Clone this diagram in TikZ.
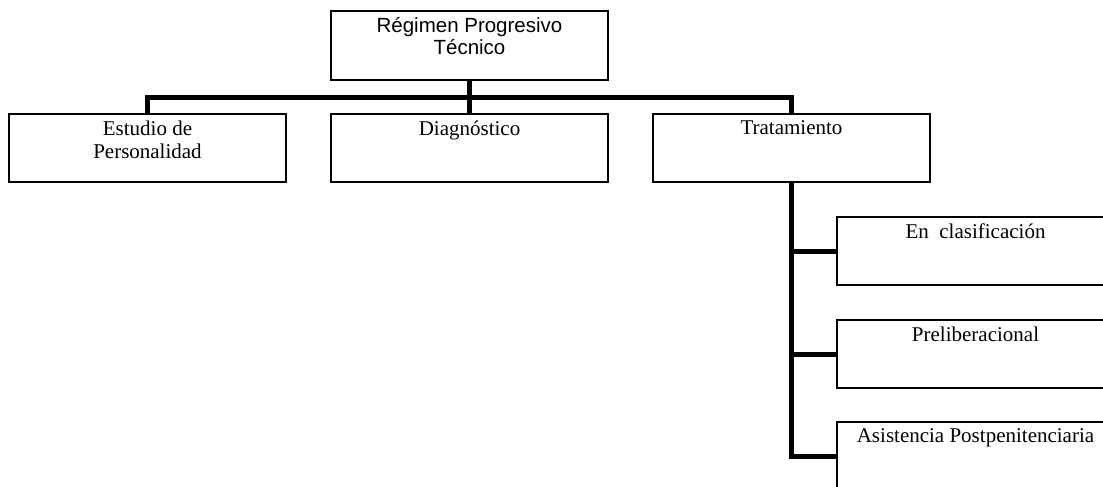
\documentclass[tikz,border=0pt]{standalone}
\usepackage{fontspec}
\setmainfont{Liberation Serif}
\newfontfamily\arialfont{Liberation Sans}
\usetikzlibrary{calc}

\begin{document}
\begin{tikzpicture}[x=1pt,y=-1pt]
  \tikzstyle{box}=[draw, line width=1.3pt, minimum width=277pt, minimum height=68pt, inner sep=0pt]
  \tikzstyle{boxtext}=[anchor=north, align=center, inner sep=0pt, font=\fontsize{21}{23}\selectfont]
  \tikzstyle{bar}=[line width=5pt, black]
  \clip (0,0) rectangle (1103,487);
  \node[box, minimum height=69pt, label={[boxtext, name=regt, font=\arialfont\fontsize{20.5}{22}\selectfont, yshift=-7pt]north:R\'egimen Progresivo\\T\'ecnico}] (reg) at (469.5,45.5) {};
  \foreach \n/\x/\t in {est/147.5/{Estudio de\\Personalidad}, diag/469.5/{Diagn\'ostico}, trat/791.5/{Tratamiento}} {
    \node[box, label={[boxtext, name=\n t, yshift=-7.5pt]north:\t}] (\n) at (\x,148) {};
  }
  \foreach \n/\y/\t in {cla/251/{En\ \ clasificaci\'on}, pre/354/{Preliberacional}, post/456/{Asistencia Postpenitenciaria}} {
    \node[box, label={[boxtext, name=\n t, yshift=-7.5pt]north:\t}] (\n) at (975.5,\y) {};
  }
  \coordinate (bus) at ($(reg.south)!0.5!(diag.north)$);
  \draw[bar] (est.north) |- (bus) -| (trat.north);
  \draw[bar] (reg.south) -- (diag.north);
  \draw[bar] (trat.south) |- (post.west);
  \foreach \n in {cla,pre} {
    \draw[bar] (trat.south |- \n.west) -- (\n.west);
  }
\end{tikzpicture}
\end{document}
